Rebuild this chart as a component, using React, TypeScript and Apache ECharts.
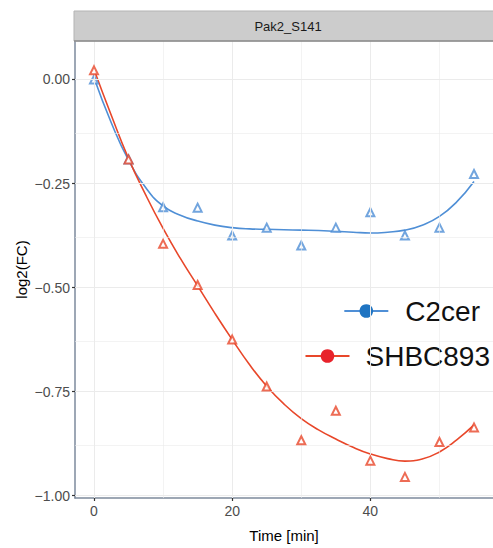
import React, { useEffect, useRef } from "react";
import * as echarts from "echarts";

const time = [0, 5, 10, 15, 20, 25, 30, 35, 40, 45, 50, 55];
const c2cer = [0.0, -0.192, -0.307, -0.308, -0.375, -0.356, -0.399, -0.356, -0.319, -0.375, -0.356, -0.227];
const shbc893 = [0.022, -0.192, -0.395, -0.494, -0.625, -0.738, -0.867, -0.796, -0.916, -0.955, -0.871, -0.836];

const fitTime = [0, 2.5, 5, 7.5, 10, 12.5, 15, 17.5, 20, 22.5, 25, 27.5, 30, 32.5, 35, 37.5, 40, 42.5, 45, 47.5, 50, 52.5, 55];
const c2cerFit = [0.004, -0.104, -0.194, -0.26, -0.304, -0.326, -0.34, -0.35, -0.356, -0.359, -0.36, -0.361, -0.362, -0.363, -0.365, -0.367, -0.369, -0.367, -0.362, -0.35, -0.329, -0.294, -0.245];
const shbcFit = [0.024, -0.086, -0.19, -0.278, -0.358, -0.43, -0.496, -0.562, -0.625, -0.685, -0.737, -0.78, -0.815, -0.842, -0.864, -0.884, -0.9, -0.911, -0.917, -0.912, -0.895, -0.866, -0.83];

const xMajor = [0, 20, 40];
const xMinor = [10, 30, 50];
const yMajor = [0, -0.25, -0.5, -0.75, -1];
const yMinor = [-0.125, -0.375, -0.625, -0.875];

const panelTitle = "Pak2_S141";
const seriesNames = ["C2cer", "SHBC893"];

const FONT = "'Liberation Sans', Arial, Helvetica, sans-serif";

export default function App() {
  const ref = useRef<HTMLDivElement>(null);
  useEffect(() => {
    if (!ref.current) return;
    const chart = echarts.init(ref.current, undefined, { renderer: "svg" });
    const fmt = (v: number) => v.toFixed(2).replace("-", "\u2212");
    const gridLine = (vals: number[], key: "xAxis" | "yAxis", width: number) =>
      vals.map((v) => ({ [key]: v, lineStyle: { color: "#ebebeb", width, type: "solid" } }));

    chart.setOption({
      animation: false,
      backgroundColor: "#ffffff",
      textStyle: { fontFamily: FONT },
      grid: { left: 75, top: 41, width: 427, height: 463, containLabel: false },
      xAxis: {
        type: "value",
        min: -2.75,
        max: 57.75,
        axisLine: { show: true, onZero: false, lineStyle: { color: "#7d8a9c", width: 1.5 } },
        axisTick: { show: true, customValues: xMajor, length: 3, lineStyle: { color: "#333333", width: 1.2 } },
        axisLabel: { customValues: xMajor, margin: 6, fontSize: 14, color: "#4d4d4d", fontFamily: FONT },
        splitLine: { show: false },
        name: "Time [min]",
        nameLocation: "middle",
        nameGap: 30,
        nameMoveOverlap: false,
        nameTextStyle: { fontSize: 15, color: "#000000", fontFamily: FONT },
      },
      yAxis: {
        type: "value",
        min: -1.0057,
        max: 0.0925,
        axisLine: { show: true, onZero: false, lineStyle: { color: "#7d8a9c", width: 1.5 } },
        axisTick: { show: true, customValues: yMajor, length: 3, lineStyle: { color: "#333333", width: 1.2 } },
        axisLabel: { customValues: yMajor, margin: 5, fontSize: 14, color: "#4d4d4d", fontFamily: FONT, formatter: fmt },
        splitLine: { show: false },
        name: "log2(FC)",
        nameLocation: "middle",
        nameGap: 46,
        nameMoveOverlap: false,
        nameRotate: 90,
        nameTextStyle: { fontSize: 15, color: "#000000", fontFamily: FONT },
      },
      legend: [
        {
          data: [seriesNames[0]],
          right: 13,
          top: 297,
          padding: 0,
          itemWidth: 44,
          itemHeight: 17,
          lineStyle: { width: 2.2 },
          textStyle: { fontSize: 28, color: "#111111", fontFamily: FONT, padding: [0, 0, 0, 12] },
        },
        {
          data: [seriesNames[1]],
          right: 3,
          top: 342,
          padding: 0,
          itemWidth: 44,
          itemHeight: 17,
          lineStyle: { width: 2.2 },
          textStyle: { fontSize: 28, color: "#111111", fontFamily: FONT, padding: [0, 0, 0, 11] },
        },
      ],
      graphic: [
        {
          type: "rect",
          shape: { x: 74, y: 11, width: 440, height: 30 },
          style: { fill: "#cccccc", stroke: "#b3b3b3", lineWidth: 1 },
          z: 10,
        },
        {
          type: "line",
          shape: { x1: 74, y1: 41, x2: 493, y2: 41 },
          style: { stroke: "#8c8c8c", lineWidth: 1.5 },
          z: 11,
        },
        {
          type: "text",
          x: 288,
          y: 26,
          style: { text: panelTitle, fontSize: 13, fill: "#1a1a1a", fontFamily: FONT, align: "center", verticalAlign: "middle" },
          z: 12,
        },
      ],
      series: [
        {
          name: "grid",
          type: "line",
          data: [],
          silent: true,
          z: 0,
          markLine: {
            silent: true,
            symbol: "none",
            label: { show: false },
            data: [
              ...gridLine(xMinor, "xAxis", 0.6),
              ...gridLine(yMinor, "yAxis", 0.6),
              ...gridLine(xMajor, "xAxis", 1),
              ...gridLine(yMajor, "yAxis", 1),
            ],
          },
        },
        {
          name: seriesNames[0],
          type: "line",
          data: fitTime.map((t, i) => [t, c2cerFit[i]]),
          smooth: true,
          symbol: "circle",
          showSymbol: false,
          itemStyle: { color: "#1f74c2" },
          lineStyle: { color: "#4f8fd6", width: 1.6 },
          z: 3,
        },
        {
          name: seriesNames[1],
          type: "line",
          data: fitTime.map((t, i) => [t, shbcFit[i]]),
          smooth: true,
          symbol: "circle",
          showSymbol: false,
          itemStyle: { color: "#e8232b" },
          lineStyle: { color: "#e8472a", width: 1.6 },
          z: 3,
        },
        {
          name: seriesNames[0],
          type: "scatter",
          data: time.map((t, i) => ({
            value: [t, c2cer[i]],
            itemStyle: i < 2 ? { borderColor: "#3cb4c8" } : undefined,
          })),
          symbol: "emptyTriangle",
          symbolSize: 8,
          itemStyle: { color: "#4f8fd6", borderColor: "#4f8fd6", borderWidth: 1.6 },
          z: 4,
        },
        {
          name: seriesNames[1],
          type: "scatter",
          data: time.map((t, i) => [t, shbc893[i]]),
          symbol: "emptyTriangle",
          symbolSize: 8,
          itemStyle: { color: "#e8472a", borderColor: "#e8472a", borderWidth: 1.6 },
          z: 5,
        },
      ],
    });
    return () => chart.dispose();
  }, []);
  return (
    <div
      ref={ref}
      style={{ position: "fixed", left: 0, top: 0, width: 493, height: 548, background: "#fff" }}
    />
  );
}
